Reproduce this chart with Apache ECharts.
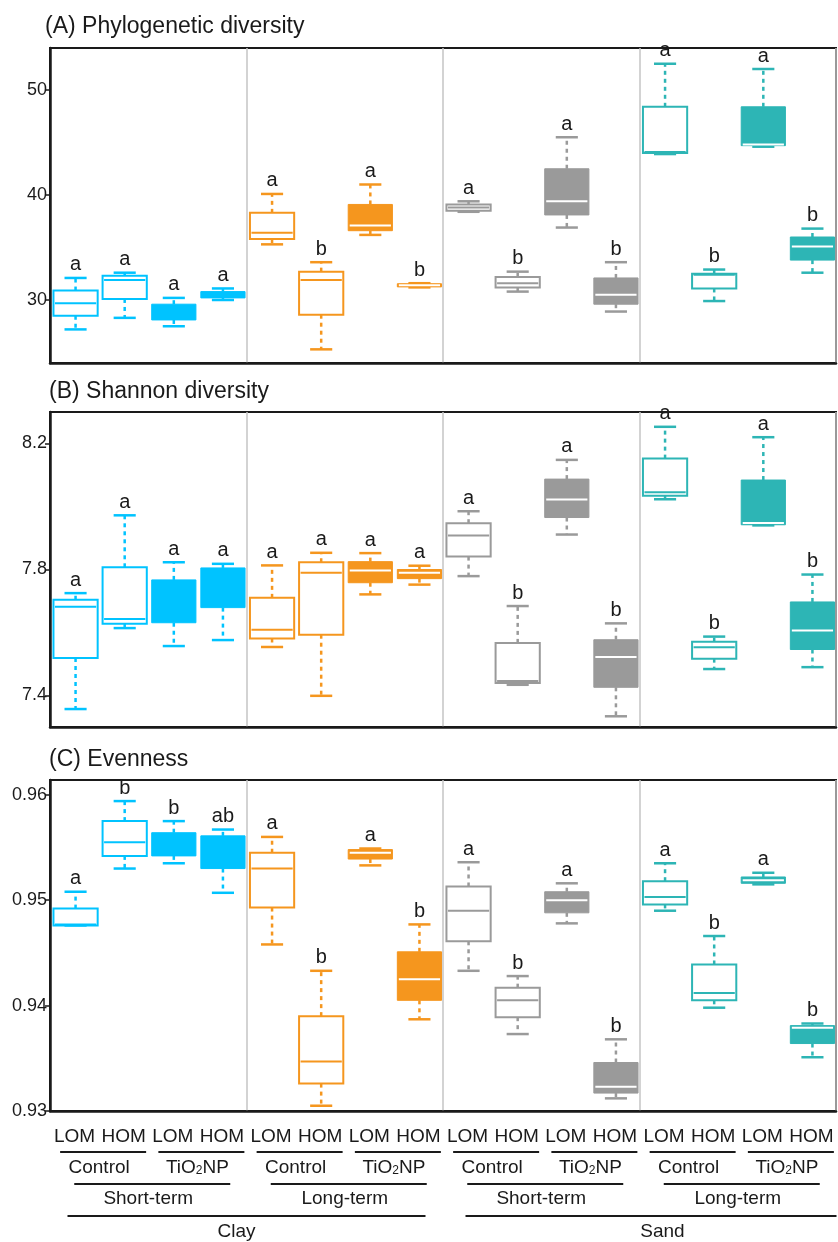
<!DOCTYPE html>
<html>
<head>
<meta charset="utf-8">
<script src="https://cdn.jsdelivr.net/npm/echarts@6.0.0/dist/echarts.min.js"></script>
<style>
html, body { margin: 0; padding: 0; background: #fff; }
#main { width: 838px; height: 1242px; }
</style>
</head>
<body>
<div id="main"></div>
<script>
// 16 boxes: Clay short-term, Clay long-term, Sand short-term, Sand long-term
var categories = ['LOM','HOM','LOM','HOM','LOM','HOM','LOM','HOM','LOM','HOM','LOM','HOM','LOM','HOM','LOM','HOM'];
var treatments = ['Control','TiO2NP','Control','TiO2NP','Control','TiO2NP','Control','TiO2NP'];
var terms = ['Short-term','Long-term','Short-term','Long-term'];
var soils = ['Clay','Sand'];

// each box: [min, Q1, median, Q3, max]
var phyloBoxes = [
  [27.2, 28.5, 29.7, 30.9, 32.1],
  [28.3, 30.1, 31.9, 32.3, 32.6],
  [27.5, 28.1, 28.3, 29.6, 30.2],
  [30.0, 30.2, 30.4, 30.8, 31.1],
  [35.3, 35.8, 36.4, 38.3, 40.1],
  [25.3, 28.6, 31.9, 32.7, 33.6],
  [36.2, 36.6, 37.1, 39.1, 41.0],
  [31.2, 31.25, 31.4, 31.55, 31.6],
  [38.4, 38.5, 38.8, 39.1, 39.4],
  [30.8, 31.2, 31.6, 32.2, 32.7],
  [36.9, 38.1, 39.4, 42.5, 45.5],
  [28.9, 29.6, 30.5, 32.1, 33.6],
  [43.9, 44.0, 44.1, 48.4, 52.5],
  [29.9, 31.1, 32.4, 32.5, 32.9],
  [44.6, 44.7, 44.8, 48.4, 52.0],
  [32.6, 33.8, 35.1, 36.0, 36.8]
];
var shannonBoxes = [
  [7.357, 7.519, 7.682, 7.704, 7.725],
  [7.614, 7.628, 7.643, 7.807, 7.972],
  [7.557, 7.631, 7.700, 7.767, 7.823],
  [7.576, 7.679, 7.750, 7.805, 7.818],
  [7.554, 7.581, 7.609, 7.710, 7.813],
  [7.399, 7.593, 7.790, 7.823, 7.853],
  [7.721, 7.758, 7.797, 7.825, 7.852],
  [7.752, 7.771, 7.790, 7.800, 7.812],
  [7.779, 7.841, 7.908, 7.947, 7.985],
  [7.434, 7.440, 7.446, 7.567, 7.684],
  [7.911, 7.965, 8.022, 8.087, 8.148],
  [7.334, 7.426, 7.522, 7.577, 7.629],
  [8.023, 8.034, 8.045, 8.152, 8.253],
  [7.484, 7.517, 7.553, 7.571, 7.587],
  [7.940, 7.942, 7.948, 8.084, 8.220],
  [7.490, 7.546, 7.606, 7.697, 7.784]
];
var evenBoxes = [
  [0.9476, 0.9476, 0.9477, 0.9492, 0.9508],
  [0.9530, 0.9542, 0.9555, 0.9575, 0.9594],
  [0.9535, 0.9542, 0.9553, 0.9564, 0.9575],
  [0.9507, 0.9530, 0.9548, 0.9561, 0.9567],
  [0.9458, 0.9493, 0.9530, 0.9545, 0.9560],
  [0.9305, 0.9326, 0.9347, 0.9390, 0.9433],
  [0.9533, 0.9539, 0.9545, 0.9548, 0.9549],
  [0.9387, 0.9405, 0.9425, 0.9451, 0.9477],
  [0.9433, 0.9461, 0.9490, 0.9513, 0.9536],
  [0.9373, 0.9389, 0.9405, 0.9417, 0.9428],
  [0.9478, 0.9488, 0.9500, 0.9508, 0.9516],
  [0.9312, 0.9317, 0.9323, 0.9346, 0.9368],
  [0.9490, 0.9496, 0.9503, 0.9518, 0.9535],
  [0.9398, 0.9405, 0.9412, 0.9439, 0.9466],
  [0.9515, 0.9516, 0.9519, 0.9522, 0.9526],
  [0.9351, 0.9364, 0.9379, 0.9381, 0.9383]
];
var phyloLetters = ['a','a','a','a','a','b','a','b','a','b','a','b','a','b','a','b'];
var shannonLetters = ['a','a','a','a','a','a','a','a','a','b','a','b','a','b','a','b'];
var evenLetters = ['a','b','b','ab','a','b','a','b','a','b','a','b','a','b','a','b'];

var phyloTicks = [30, 40, 50];
var shannonTicks = [7.4, 7.8, 8.2];
var evenTicks = [0.93, 0.94, 0.95, 0.96];

var groupColors = ['#00c3ff', '#f5961e', '#9a9a9a', '#2db5b5'];
var ink = '#1a1a1a';
var labelFont = "'Liberation Sans', Arial, sans-serif";

function makeRenderer(letters) {
  return function (params, api) {
    var i = api.value(0);
    var color = groupColors[Math.floor(i / 4)];
    var filled = i % 4 >= 2;
    var w = api.size([1, 0])[0] * 0.9;
    var pMin = api.coord([i, api.value(1)]);
    var pQ1 = api.coord([i, api.value(2)]);
    var pMed = api.coord([i, api.value(3)]);
    var pQ3 = api.coord([i, api.value(4)]);
    var pMax = api.coord([i, api.value(5)]);
    var x = pQ1[0] + 1;
    var medColor = filled ? (Math.floor(i / 4) === 0 ? color : '#fff') : color;
    return {
      type: 'group',
      children: [
        { type: 'line', shape: { x1: x, y1: pQ3[1], x2: x, y2: pMax[1] },
          style: { stroke: color, lineWidth: 2.5, lineDash: [4, 4] } },
        { type: 'line', shape: { x1: x, y1: pQ1[1], x2: x, y2: pMin[1] },
          style: { stroke: color, lineWidth: 2.5, lineDash: [4, 4] } },
        { type: 'line', shape: { x1: x - w / 4, y1: pMax[1], x2: x + w / 4, y2: pMax[1] },
          style: { stroke: color, lineWidth: 2.5 } },
        { type: 'line', shape: { x1: x - w / 4, y1: pMin[1], x2: x + w / 4, y2: pMin[1] },
          style: { stroke: color, lineWidth: 2.5 } },
        { type: 'rect', shape: { x: x - w / 2, y: pQ3[1], width: w, height: Math.max(pQ1[1] - pQ3[1], 1) },
          style: { fill: filled ? color : '#fff', stroke: color, lineWidth: filled ? 1 : 2 } },
        { type: 'line', shape: { x1: x - w / 2 + 1.5, y1: pMed[1], x2: x + w / 2 - 1.5, y2: pMed[1] },
          style: { stroke: medColor, lineWidth: 2 } },
        { type: 'text', style: { text: letters[i], x: x, y: pMax[1] - 3, align: 'center', verticalAlign: 'bottom',
          fill: ink, font: '20px ' + labelFont } }
      ]
    };
  };
}

function toItems(boxes) {
  return boxes.map(function (b, i) { return [i].concat(b); });
}

var sepLine = {
  show: true,
  interval: function (index) { return index > 0 && index % 4 === 0; },
  lineStyle: { color: '#c4c4c4', width: 1.5 }
};

function mainX(gridIndex, showLabels) {
  return {
    type: 'category', gridIndex: gridIndex, data: categories,
    axisLine: { show: true, onZero: false, lineStyle: { color: ink, width: 2.5 } },
    axisTick: { show: false },
    axisLabel: { show: showLabels, interval: 0, margin: 16, fontSize: 19, color: ink, fontFamily: labelFont },
    splitLine: sepLine
  };
}

function extraX(data, offset, extra) {
  var ax = {
    type: 'category', gridIndex: 2, data: data, position: 'bottom', offset: offset,
    axisLine: { show: false }, axisTick: { show: false }, splitLine: { show: false },
    axisLabel: { margin: 16, fontSize: 19, color: ink, fontFamily: labelFont, interval: 0 }
  };
  if (extra) { Object.assign(ax.axisLabel, extra); }
  return ax;
}

function yAx(gridIndex, min, max, ticks, digits) {
  return {
    type: 'value', gridIndex: gridIndex, min: min, max: max,
    axisLine: { show: true, lineStyle: { color: ink, width: 2.5 } },
    axisTick: { show: true, customValues: ticks, length: 5, lineStyle: { color: ink, width: 1.5 } },
    axisLabel: { customValues: ticks, fontSize: 18, color: ink, margin: 3, fontFamily: labelFont,
      formatter: function (v) { return v.toFixed(digits); } },
    splitLine: { show: false }
  };
}

var chart = echarts.init(document.getElementById('main'));
var titleStyle = { fontSize: 23, fontWeight: 'normal', color: ink, fontFamily: labelFont };
var gridBox = { show: true, borderColor: ink, borderWidth: 2, backgroundColor: 'transparent' };

var option = {
  animation: false,
  backgroundColor: '#fff',
  title: [
    { text: '(A) Phylogenetic diversity', left: 45, top: 15, padding: 0, textStyle: titleStyle },
    { text: '(B) Shannon diversity', left: 49, top: 380, padding: 0, textStyle: titleStyle },
    { text: '(C) Evenness', left: 49, top: 748, padding: 0, textStyle: titleStyle }
  ],
  grid: [
    Object.assign({ left: 50, right: 2, top: 48, height: 315 }, gridBox),
    Object.assign({ left: 50, right: 2, top: 412, height: 315 }, gridBox),
    Object.assign({ left: 50, right: 2, top: 780, height: 331 }, gridBox)
  ],
  xAxis: [
    mainX(0, false),
    mainX(1, false),
    mainX(2, true),
    extraX(treatments, 31, {
      formatter: function (v) { return v.replace('2', '{s|2}'); },
      rich: { s: { fontSize: 12, verticalAlign: 'bottom', padding: [6, 0, 0, 0], color: ink, fontFamily: labelFont } }
    }),
    extraX(terms, 62),
    extraX(soils, 95, {
      formatter: function (v) { return v === 'Clay' ? '{c|' + v + '}' : '{d|' + v + '}'; },
      rich: {
        c: { fontSize: 19, color: ink, fontFamily: labelFont, padding: [0, 20, 0, 0] },
        d: { fontSize: 19, color: ink, fontFamily: labelFont, padding: [0, 0, 0, 46] }
      }
    })
  ],
  yAxis: [
    yAx(0, 24, 54, phyloTicks, 0),
    yAx(1, 7.3, 8.3, shannonTicks, 1),
    yAx(2, 0.93, 0.9614, evenTicks, 2)
  ],
  series: [
    { type: 'custom', xAxisIndex: 0, yAxisIndex: 0, renderItem: makeRenderer(phyloLetters),
      encode: { x: 0, y: [1, 2, 3, 4, 5] }, data: toItems(phyloBoxes) },
    { type: 'custom', xAxisIndex: 1, yAxisIndex: 1, renderItem: makeRenderer(shannonLetters),
      encode: { x: 0, y: [1, 2, 3, 4, 5] }, data: toItems(shannonBoxes) },
    { type: 'custom', xAxisIndex: 2, yAxisIndex: 2, renderItem: makeRenderer(evenLetters),
      encode: { x: 0, y: [1, 2, 3, 4, 5] }, data: toItems(evenBoxes) }
  ]
};
chart.setOption(option);

// underlines of the grouped labels under panel C
function px(i) { return chart.convertToPixel({ xAxisIndex: 2 }, i); }
var lines = [];
function hline(x1, x2, y) {
  lines.push({ type: 'line', shape: { x1: x1, y1: y, x2: x2, y2: y }, style: { stroke: ink, lineWidth: 2 } });
}
for (var k = 0; k < 8; k++) {
  var c = (px(2 * k) + px(2 * k + 1)) / 2 + 4;
  hline(c - 43, c + 43, 1152);
}
for (var g = 0; g < 4; g++) {
  var c2 = (px(4 * g) + px(4 * g + 3)) / 2 + 4;
  hline(c2 - 78, c2 + 78, 1184);
}
var clayC = (px(0) + px(7)) / 2;
var sandC = (px(8) + px(15)) / 2;
hline(clayC - 179, clayC + 179, 1216);
hline(sandC - 174, sandC + 197, 1216);
chart.setOption({ graphic: lines });
</script>
</body>
</html>
